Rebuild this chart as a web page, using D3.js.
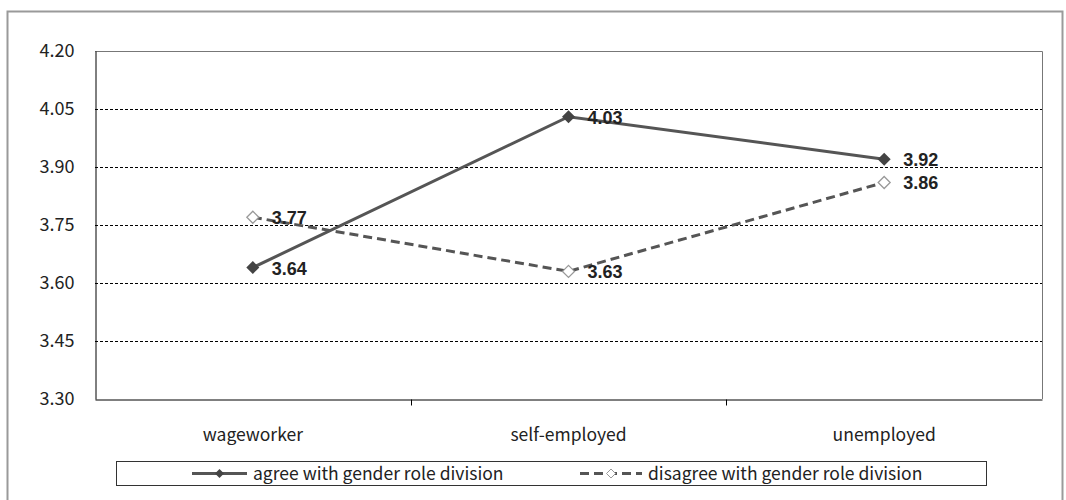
<!DOCTYPE html>
<html>
<head>
<meta charset="utf-8">
<script src="https://cdn.jsdelivr.net/npm/d3@7"></script>
<style>
  html, body { margin: 0; padding: 0; background: #fff; }
  svg { display: block; }
</style>
</head>
<body>
<svg id="chart" width="1066" height="500"></svg>
<script>
// Mean scores by employment status, split by attitude toward gender roles
const categories = ["wageworker", "self-employed", "unemployed"];
const agreeValues = [3.64, 4.03, 3.92];
const disagreeValues = [3.77, 3.63, 3.86];
const seriesNames = ["agree with gender role division", "disagree with gender role division"];
const yTicks = [3.30, 3.45, 3.60, 3.75, 3.90, 4.05, 4.20];

const svg = d3.select("#chart");
const plot = { left: 95, top: 51, right: 1042, bottom: 399 };
const font = "'Noto Sans CJK JP', 'DejaVu Sans', sans-serif";

// outer frame
svg.append("rect")
  .attr("x", 7.5).attr("y", 11.5)
  .attr("width", 1055).attr("height", 500)
  .attr("fill", "#fff").attr("stroke", "#9a9a9a").attr("stroke-width", 2);

const x = d3.scaleBand().domain(categories).range([plot.left, plot.right]).padding(0);
const y = d3.scaleLinear().domain([3.30, 4.20]).range([plot.bottom, plot.top]);
const cx = d => x(d) + x.bandwidth() / 2;

// horizontal gridlines (dashed)
svg.append("g").selectAll("line")
  .data(yTicks.filter(t => t > 3.30 && t < 4.20))
  .join("line")
  .attr("x1", plot.left).attr("x2", plot.right)
  .attr("y1", d => Math.round(y(d)) + 0.5).attr("y2", d => Math.round(y(d)) + 0.5)
  .attr("stroke", "#000").attr("stroke-width", 1).attr("stroke-dasharray", "3,2");

// plot border: top and right in grey
svg.append("path")
  .attr("d", `M${plot.left},${plot.top + 0.5}H${plot.right + 0.5}V${plot.bottom}`)
  .attr("fill", "none").attr("stroke", "#777").attr("stroke-width", 1);

// y axis
const yAxis = d3.axisLeft(y).tickValues(yTicks).tickFormat(d3.format(".2f")).tickSize(0).tickPadding(21);
const gy = svg.append("g").attr("transform", `translate(${plot.left + 0.5},0)`).call(yAxis);
gy.select(".domain").attr("stroke", "#000");
gy.selectAll("text").attr("font-family", font).attr("font-size", 18).attr("fill", "#222");

// x axis with separators between categories
const xAxis = d3.axisBottom(x).tickSize(0).tickPadding(29);
const gx = svg.append("g").attr("transform", `translate(0,${plot.bottom + 0.5})`).call(xAxis);
gx.select(".domain").attr("stroke", "#000");
gx.selectAll("text").attr("font-family", font).attr("font-size", 17.5).attr("fill", "#222");
gx.append("g").selectAll("line")
  .data(categories.slice(1))
  .join("line")
  .attr("x1", d => Math.round(x(d)) + 0.5).attr("x2", d => Math.round(x(d)) + 0.5)
  .attr("y1", 0).attr("y2", 6)
  .attr("stroke", "#000");

const line = d3.line().x((d, i) => cx(categories[i])).y(d => y(d));
// square diamond marker with half-diagonal r
const diamond = r => `M0,${-r}L${r},0L0,${r}L${-r},0Z`;

// disagree series (dashed, hollow markers)
svg.append("path").datum(disagreeValues)
  .attr("d", line).attr("fill", "none")
  .attr("stroke", "#555").attr("stroke-width", 3).attr("stroke-dasharray", "9,5");
// agree series (solid, filled markers)
svg.append("path").datum(agreeValues)
  .attr("d", line).attr("fill", "none")
  .attr("stroke", "#555").attr("stroke-width", 3);

svg.append("g").selectAll("path")
  .data(disagreeValues)
  .join("path")
  .attr("d", diamond(6))
  .attr("transform", (d, i) => `translate(${cx(categories[i])},${y(d)})`)
  .attr("fill", "#fff").attr("stroke", "#999").attr("stroke-width", 1.3);
svg.append("g").selectAll("path")
  .data(agreeValues)
  .join("path")
  .attr("d", diamond(6.5))
  .attr("transform", (d, i) => `translate(${cx(categories[i])},${y(d)})`)
  .attr("fill", "#444");

// value labels
function labels(values) {
  svg.append("g").selectAll("text")
    .data(values)
    .join("text")
    .attr("x", (d, i) => cx(categories[i]) + 19)
    .attr("y", d => y(d) + 7)
    .attr("font-family", "'Liberation Sans', Arial, sans-serif")
    .attr("font-size", 18).attr("font-weight", "bold").attr("fill", "#222")
    .text(d => d3.format(".2f")(d));
}
labels(agreeValues);
labels(disagreeValues);

// legend
const lg = svg.append("g");
lg.append("rect").attr("x", 116.5).attr("y", 461.5).attr("width", 870).attr("height", 24)
  .attr("fill", "#fff").attr("stroke", "#333").attr("stroke-width", 1);
const legendItems = [
  { name: seriesNames[0], x0: 192, x1: 247, dash: null, fill: "#444", stroke: "none" },
  { name: seriesNames[1], x0: 580, x1: 642, dash: "9,5", fill: "#fff", stroke: "#999" }
];
legendItems.forEach(it => {
  const ly = 473.5;
  lg.append("line").attr("x1", it.x0).attr("x2", it.x1).attr("y1", ly).attr("y2", ly)
    .attr("stroke", "#555").attr("stroke-width", 3).attr("stroke-dasharray", it.dash);
  lg.append("path").attr("d", diamond(4.5))
    .attr("transform", `translate(${(it.x0 + it.x1) / 2},${ly})`)
    .attr("fill", it.fill).attr("stroke", it.stroke);
  lg.append("text").attr("x", it.x1 + 6).attr("y", ly + 6)
    .attr("font-family", font).attr("font-size", 17.5).attr("fill", "#222")
    .text(it.name);
});
</script>
</body>
</html>
